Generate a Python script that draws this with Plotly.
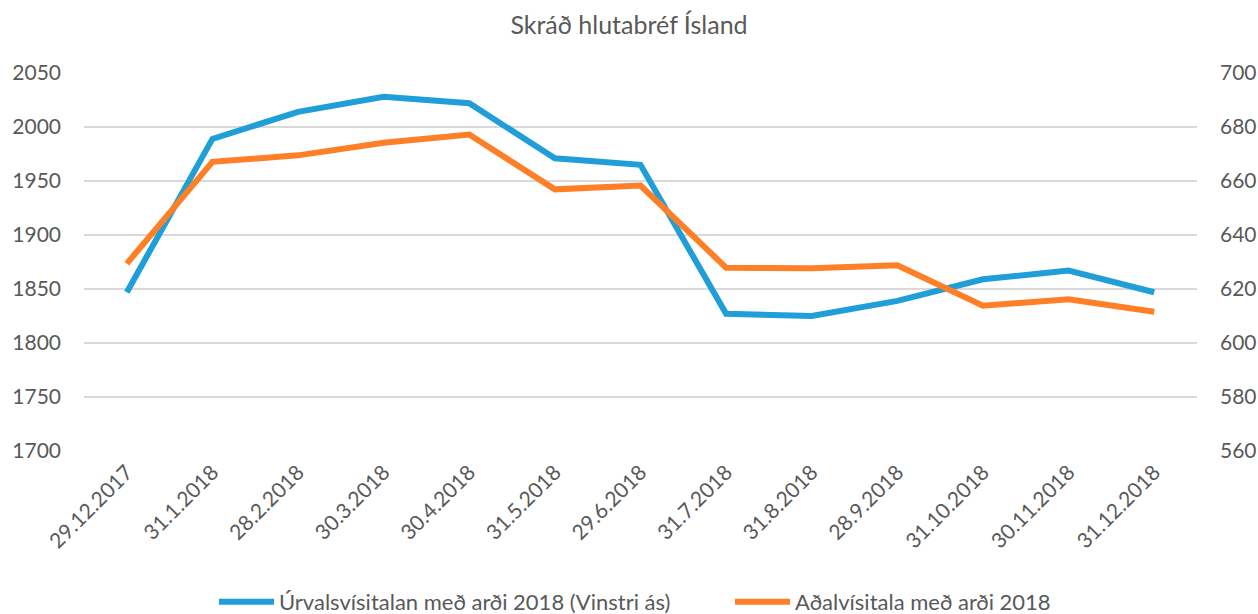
import plotly.graph_objects as go

dates = ["29.12.2017", "31.1.2018", "28.2.2018", "30.3.2018", "30.4.2018", "31.5.2018",
         "29.6.2018", "31.7.2018", "31.8.2018", "28.9.2018", "31.10.2018", "30.11.2018", "31.12.2018"]
urvalsvisitala = [1847, 1989, 2014, 2028, 2022, 1971, 1965, 1827, 1825, 1839, 1859, 1867, 1847]
adalvisitala = [629.4, 667.1, 669.5, 674.2, 677.2, 656.9, 658.3, 627.9, 627.7, 628.8, 613.8, 616.2, 611.6]

name_left = "Úrvalsvísitalan með arði 2018 (Vinstri ás)"
name_right = "Aðalvísitala með arði 2018"
title_text = "Skráð hlutabréf Ísland"

grey = "#595959"
font_family = "Lato, 'Open Sans', sans-serif"

fig = go.Figure()
fig.add_trace(go.Scatter(x=dates, y=urvalsvisitala, name=name_left, mode="lines",
                         line=dict(color="#1F9ED8", width=6), yaxis="y"))
fig.add_trace(go.Scatter(x=dates, y=adalvisitala, name=name_right, mode="lines",
                         line=dict(color="#FF7F27", width=6), yaxis="y2"))

fig.update_layout(
    width=1258, height=614,
    margin=dict(l=84, r=61, t=73, b=163, autoexpand=False),
    paper_bgcolor="white", plot_bgcolor="white",
    font=dict(family=font_family, size=21, color=grey),
    title=dict(text=title_text, x=0.5, xanchor="center", y=1 - 25 / 614, yanchor="middle",
               font=dict(family=font_family, size=25, color=grey)),
    xaxis=dict(type="category", range=[-0.5, 12.5], tickangle=-45, showgrid=False,
               showline=False, zeroline=False, ticks="", ticklabelstandoff=4,
               tickfont=dict(size=21, color=grey)),
    yaxis=dict(range=[1700, 2050], dtick=50, tick0=1700, showgrid=True, gridcolor="#D9D9D9",
               gridwidth=1.5, zeroline=False, showline=False, ticks="", ticklabelstandoff=22,
               tickfont=dict(size=21, color=grey)),
    yaxis2=dict(range=[560, 700], dtick=20, tick0=560, overlaying="y", side="right",
                showgrid=False, zeroline=False, showline=False, ticks="", ticklabelstandoff=22,
                tickfont=dict(size=21, color=grey)),
    legend=dict(orientation="h", x=(214 - 84) / 1113, xanchor="left", y=-0.344, yanchor="top",
                font=dict(size=22, color=grey), itemwidth=55,
                entrywidth=446, entrywidthmode="pixels"),
    showlegend=True,
)

fig.write_html("out.html", post_script="document.body.style.margin='0';",
               config={"displayModeBar": False})
